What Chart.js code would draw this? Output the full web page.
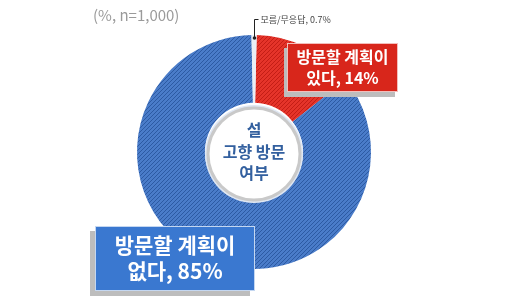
<!DOCTYPE html>
<html>
<head>
<meta charset="utf-8">
<script src="https://cdn.jsdelivr.net/npm/chart.js@4"></script>
<style>
  body { margin: 0; background: #fff; }
  canvas { display: block; }
</style>
</head>
<body>
<canvas id="myChart" width="505" height="304"></canvas>
<script>
const categories = ["방문할 계획이 있다", "방문할 계획이 없다", "모름/무응답"];
const values = [14, 85, 0.7];
const note = "(%, n=1,000)";

const KR = '"Noto Sans CJK KR", "Noto Sans", sans-serif';

// diagonal hatch fill like the original
function hatch(base, line) {
  const c = document.createElement('canvas');
  c.width = 4; c.height = 4;
  const g = c.getContext('2d');
  g.fillStyle = base;
  g.fillRect(0, 0, 4, 4);
  g.strokeStyle = line;
  g.lineWidth = 1;
  g.beginPath();
  g.moveTo(0, 4); g.lineTo(4, 0);
  g.moveTo(-1, 1); g.lineTo(1, -1);
  g.moveTo(3, 5); g.lineTo(5, 3);
  g.stroke();
  return g.createPattern(c, 'repeat');
}

function box(ctx, x, y, w, h, fill, sx, sy, lines, size, lh) {
  ctx.fillStyle = '#bdbdbd';
  ctx.fillRect(x + sx, y + sy, w, h);
  ctx.fillStyle = fill;
  ctx.fillRect(x, y, w, h);
  ctx.strokeStyle = 'rgba(255,255,255,0.7)';
  ctx.lineWidth = 1;
  ctx.strokeRect(x + 0.5, y + 0.5, w - 1, h - 1);
  ctx.fillStyle = '#fff';
  ctx.font = 'bold ' + size + 'px ' + KR;
  ctx.textAlign = 'center';
  ctx.textBaseline = 'middle';
  const top = y + h / 2 - (lines.length - 1) * lh / 2;
  lines.forEach((t, i) => ctx.fillText(t, x + w / 2, top + i * lh));
}

const overlay = {
  id: 'overlay',
  afterDraw(chart) {
    const ctx = chart.ctx;
    const meta = chart.getDatasetMeta(0);
    const arc = meta.data[0];
    const cx = arc.x, cy = arc.y;
    const r = arc.outerRadius;
    ctx.save();

    // center disc
    ctx.beginPath();
    ctx.arc(cx, cy + 2, 49, 0, Math.PI * 2);
    ctx.fillStyle = '#dfe7f3';
    ctx.fill();
    ctx.beginPath();
    ctx.arc(cx, cy + 2, 46, 0, Math.PI * 2);
    ctx.fillStyle = '#fff';
    ctx.fill();
    ctx.lineWidth = 3;
    ctx.strokeStyle = '#c9c9c9';
    ctx.stroke();

    ctx.fillStyle = '#33609f';
    ctx.font = 'bold 16px ' + KR;
    ctx.textAlign = 'center';
    ctx.textBaseline = 'middle';
    ctx.fillText('설', cx, cy - 22);
    ctx.fillText('고향 방문', cx, cy);
    ctx.fillText('여부', cx, cy + 21);

    // note
    ctx.fillStyle = '#9a9a9a';
    ctx.font = '15px ' + KR;
    ctx.textAlign = 'left';
    ctx.fillText(note, 93, 15);

    // leader line for the small slice (middle of the gap slice)
    const gap = meta.data[2];
    const mid = (gap.startAngle + gap.endAngle) / 2;
    const lx = Math.round(cx + Math.cos(mid) * (r - 3)) + 0.5;
    const ly = cy + Math.sin(mid) * (r - 3);
    ctx.strokeStyle = '#222';
    ctx.lineWidth = 1;
    ctx.beginPath();
    ctx.moveTo(lx, ly);
    ctx.lineTo(lx, 19.5);
    ctx.lineTo(lx + 4, 19.5);
    ctx.stroke();
    ctx.beginPath();
    ctx.arc(lx, ly, 1.8, 0, Math.PI * 2);
    ctx.fillStyle = '#222';
    ctx.fill();
    ctx.fillStyle = '#444';
    ctx.font = '9px ' + KR;
    ctx.fillText(categories[2] + ', ' + values[2] + '%', lx + 6, 20);

    // label boxes
    box(ctx, 287, 43, 111, 49, '#d8261b', -3, 5,
      ['방문할 계획이', '있다, ' + values[0] + '%'], 16, 21);
    box(ctx, 95, 226, 160, 65, '#3a78d0', -5, 5,
      ['방문할 계획이', '없다, ' + values[1] + '%'], 21, 26);

    ctx.restore();
  }
};

new Chart(document.getElementById('myChart'), {
  type: 'doughnut',
  data: {
    labels: categories,
    datasets: [{
      data: values,
      backgroundColor: [
        hatch('#e5342a', '#c41d15'),
        hatch('#4a7cc9', '#2c5aa3'),
        '#e9eef5'
      ],
      borderWidth: 0,
      hoverOffset: 0
    }]
  },
  options: {
    responsive: false,
    animation: false,
    rotation: 1.3,
    cutout: '42%',
    layout: { padding: { left: 137, right: 134, top: 35, bottom: 35 } },
    plugins: {
      legend: { display: false },
      tooltip: { enabled: false },
      title: { display: false }
    }
  },
  plugins: [overlay]
});
</script>
</body>
</html>
